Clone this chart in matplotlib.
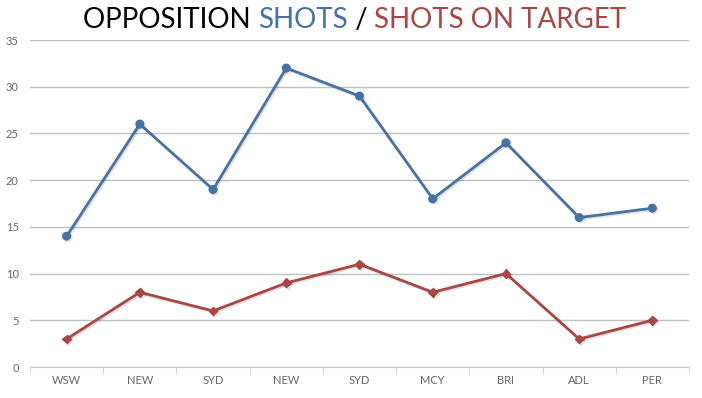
import matplotlib
matplotlib.use("Agg")
import matplotlib.pyplot as plt
import matplotlib.patheffects as pe
import numpy as np

teams = ["WSW", "NEW", "SYD", "NEW", "SYD", "MCY", "BRI", "ADL", "PER"]
shots = [14, 26, 19, 32, 29, 18, 24, 16, 17]
on_target = [3, 8, 6, 9, 11, 8, 10, 3, 5]

blue = "#4572A7"
red = "#AA4643"

plt.rcParams["font.family"] = ["Lato", "DejaVu Sans"]

fig = plt.figure(figsize=(7.02, 3.98), dpi=100)
ax = fig.add_axes([30 / 702, 1 - 367 / 398, 659 / 702, 327 / 398])

x = np.arange(len(teams))
shadow = [pe.SimpleLineShadow(offset=(1, -1), alpha=0.12, shadow_color="black"), pe.Normal()]
ax.plot(x, shots, color=blue, lw=2, marker="o", ms=5.5, zorder=3, path_effects=shadow)
ax.plot(x, on_target, color=red, lw=2, marker="D", ms=4.5, zorder=3, path_effects=shadow)

ax.set_xlim(-0.5, len(teams) - 0.5)
ax.set_ylim(0, 35)
ax.set_yticks(range(0, 36, 5))
ax.set_xticks(x)
ax.set_xticklabels(teams)
ax.set_xticks(np.arange(-0.5, len(teams), 1), minor=True)
ax.grid(axis="y", color="#C0C0C0", lw=1)
ax.set_axisbelow(True)
for s in ["top", "right", "left"]:
    ax.spines[s].set_visible(False)
ax.spines["bottom"].set_color("#C0D0E0")
ax.tick_params(axis="x", which="major", length=0, pad=6, labelsize=8, labelcolor="#666666")
ax.tick_params(axis="x", which="minor", length=5, color="#C0D0E0")
ax.tick_params(axis="y", length=0, pad=8, labelsize=8, labelcolor="#666666")

# title in three colours
parts = [("OPPOSITION ", "black"), ("SHOTS", blue), (" / ", "black"), ("SHOTS ON TARGET", red)]
fig.canvas.draw()
r = fig.canvas.get_renderer()
texts = []
for s, c in parts:
    t = fig.text(0, 1 - 20 / 398, s, color=c, fontsize=20, va="center", ha="left")
    texts.append(t)
widths = [t.get_window_extent(r).width for t in texts]
start = 355 - sum(widths) / 2
for t, w in zip(texts, widths):
    t.set_x(start / 702)
    start += w

fig.savefig("out.png", dpi=100)
